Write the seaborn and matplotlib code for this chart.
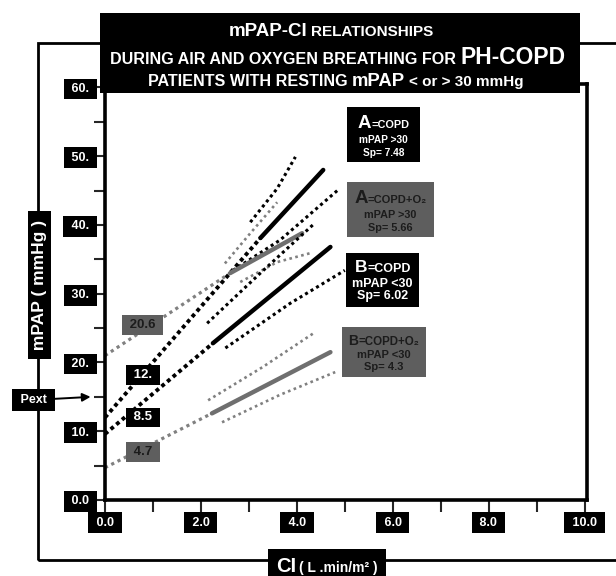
import matplotlib
matplotlib.use("Agg")
import pandas as pd
import numpy as np
import seaborn as sns
import matplotlib.pyplot as plt
from matplotlib.patches import Rectangle

# ---- data (CI in L/min/m2, mPAP in mmHg) ----
# A = COPD, resting mPAP > 30 (black)
ci_a_ext = [0.0, 3.24]
pap_a_ext = [12.0, 38.1]
ci_a_fit = [3.24, 4.55]
pap_a_fit = [38.1, 48.0]
ci_a_hi = [3.03, 3.59, 3.97]
pap_a_hi = [40.4, 45.3, 49.9]
ci_a_lo = [2.67, 3.65, 4.86]
pap_a_lo = [33.4, 37.8, 45.1]

# A = COPD + O2, resting mPAP > 30 (grey)
ci_ao_ext = [0.0, 2.61]
pap_ao_ext = [21.0, 33.0]
ci_ao_fit = [2.61, 4.11]
pap_ao_fit = [33.0, 38.8]
ci_ao_hi = [2.5, 3.03, 3.59]
pap_ao_hi = [34.4, 38.8, 43.3]
ci_ao_lo = [2.82, 3.59, 4.28]
pap_ao_lo = [31.7, 34.6, 35.9]

# B = COPD, resting mPAP < 30 (black)
ci_b_ext = [0.0, 2.25]
pap_b_ext = [9.6, 22.8]
ci_b_fit = [2.25, 4.70]
pap_b_fit = [22.8, 36.8]
ci_b_hi = [2.13, 3.24, 4.38]
pap_b_hi = [25.7, 33.0, 40.3]
ci_b_lo = [2.51, 3.86, 5.0]
pap_b_lo = [22.1, 28.6, 33.4]

# B = COPD + O2, resting mPAP < 30 (grey)
ci_bo_ext = [0.0, 2.23]
pap_bo_ext = [4.7, 12.6]
ci_bo_fit = [2.23, 4.70]
pap_bo_fit = [12.6, 21.5]
ci_bo_hi = [2.15, 3.28, 4.38]
pap_bo_hi = [14.5, 19.3, 24.4]
ci_bo_lo = [2.44, 3.65, 4.8]
pap_bo_lo = [11.3, 15.3, 18.6]

intercept_labels = ["20.6", "12.", "8.5", "4.7"]
intercept_label_y = [25.4, 18.2, 12.0, 7.0]
pext = 15.0

y_ticks = [0, 10, 20, 30, 40, 50, 60]
y_tick_labels = ["0.0", "10.", "20.", "30.", "40.", "50.", "60."]
x_ticks = [0, 2, 4, 6, 8, 10]
x_tick_labels = ["0.0", "2.0", "4.0", "6.0", "8.0", "10.0"]

BLACK = "black"
GREY_LINE = "#6f6f6f"
GREY_DOT = "#808080"
GREY_BOX = "#5e5e5e"
DARK_TXT = "#1c1c1c"

segments = [
    ("a_ext", ci_a_ext, pap_a_ext, BLACK, 2.8, (0, (1, 0.9))),
    ("a_fit", ci_a_fit, pap_a_fit, BLACK, 3.2, "-"),
    ("a_hi", ci_a_hi, pap_a_hi, BLACK, 2.2, (0, (1, 1.1))),
    ("a_lo", ci_a_lo, pap_a_lo, BLACK, 2.2, (0, (1, 1.1))),
    ("ao_ext", ci_ao_ext, pap_ao_ext, GREY_DOT, 2.3, (0, (1, 1.2))),
    ("ao_fit", ci_ao_fit, pap_ao_fit, GREY_LINE, 3.2, "-"),
    ("ao_hi", ci_ao_hi, pap_ao_hi, GREY_DOT, 1.9, (0, (1, 1.3))),
    ("ao_lo", ci_ao_lo, pap_ao_lo, GREY_DOT, 1.9, (0, (1, 1.3))),
    ("b_ext", ci_b_ext, pap_b_ext, BLACK, 2.8, (0, (1, 0.9))),
    ("b_fit", ci_b_fit, pap_b_fit, BLACK, 3.2, "-"),
    ("b_hi", ci_b_hi, pap_b_hi, BLACK, 2.2, (0, (1, 1.1))),
    ("b_lo", ci_b_lo, pap_b_lo, BLACK, 2.2, (0, (1, 1.1))),
    ("bo_ext", ci_bo_ext, pap_bo_ext, GREY_DOT, 2.3, (0, (1, 1.2))),
    ("bo_fit", ci_bo_fit, pap_bo_fit, GREY_LINE, 3.2, "-"),
    ("bo_hi", ci_bo_hi, pap_bo_hi, GREY_DOT, 1.9, (0, (1, 1.3))),
    ("bo_lo", ci_bo_lo, pap_bo_lo, GREY_DOT, 1.9, (0, (1, 1.3))),
]

rows = []
for name, xs, ys, *_ in segments:
    for x, y in zip(xs, ys):
        rows.append({"seg": name, "ci": x, "mpap": y})
df = pd.DataFrame(rows)

sns.set_style("ticks")
plt.rcParams["font.family"] = ["Liberation Sans", "DejaVu Sans"]
plt.rcParams["font.weight"] = "bold"

W, H = 616, 576
fig = plt.figure(figsize=(W / 100, H / 100), dpi=100)
fig.patch.set_facecolor("white")


def fx(px):
    return px / W


def fy(py):
    return 1 - py / H


ax = fig.add_axes([fx(105), fy(500), (587 - 105) / W, (500 - 84) / H])

for name, xs, ys, color, lw, ls in segments:
    sns.lineplot(data=df[df.seg == name], x="ci", y="mpap", color=color,
                 linewidth=lw, linestyle=ls, sort=False, estimator=None,
                 ax=ax, legend=False)

ax.set_xlim(0, 10.05)
ax.set_ylim(0, 60.5)
ax.set_xlabel("")
ax.set_ylabel("")
for sp in ax.spines.values():
    sp.set_linewidth(2.6)
    sp.set_color("black")

ax.set_yticks(y_ticks)
ax.set_yticklabels([" %s " % s for s in y_tick_labels])
ax.set_yticks(np.arange(5, 60, 10), minor=True)
ax.set_xticks(x_ticks)
ax.set_xticklabels([" %s " % s for s in x_tick_labels])
ax.set_xticks(np.arange(1, 10, 2), minor=True)
ax.tick_params(axis="y", which="major", length=6, width=1.5, pad=3,
               labelsize=9, labelcolor="white")
ax.tick_params(axis="y", which="minor", length=8, width=1.5)
ax.tick_params(axis="x", which="major", length=9, width=1.5, pad=3,
               labelsize=9, labelcolor="white")
ax.tick_params(axis="x", which="minor", length=8.5, width=1.5)
for lbl in ax.get_yticklabels() + ax.get_xticklabels():
    lbl.set_fontweight("bold")
    lbl.set_bbox(dict(boxstyle="square,pad=0.35", fc="black", ec="none"))

# intercept labels
for txt, yv in zip(intercept_labels, intercept_label_y):
    grey = txt in ("20.6", "4.7")
    ax.text(0.79, yv, " %s " % txt, ha="center", va="center", fontsize=9.5,
            fontweight="bold", color=DARK_TXT if grey else "white",
            bbox=dict(boxstyle="square,pad=0.3",
                      fc=GREY_BOX if grey else "black", ec="none"))

# Pext arrow
ax.annotate(" Pext ", xy=(-0.3, pext), xycoords="data",
            xytext=(33.5, H - 400), textcoords="figure pixels",
            ha="center", va="center", fontsize=9, fontweight="bold",
            color="white", annotation_clip=False,
            bbox=dict(boxstyle="square,pad=0.4", fc="black", ec="none"),
            arrowprops=dict(arrowstyle="-|>", color="black", lw=1.4,
                            shrinkA=0, shrinkB=0, mutation_scale=12))

# outer frame
fig.add_artist(Rectangle((fx(38), fy(560)), (700 - 38) / W, (560 - 43) / H,
                         transform=fig.transFigure, fill=False, lw=2,
                         ec="black", zorder=-1))

# y label
fig.text(fx(39.5), fy(285), " mPAP ( mmHg ) ", rotation=90, ha="center",
         va="center", fontsize=12.5, fontweight="bold", color="white",
         zorder=3,
         bbox=dict(boxstyle="square,pad=0.25", fc="black", ec="none"))


def box(x0, y0, x1, y1, color):
    fig.add_artist(Rectangle((fx(x0), fy(y1)), (x1 - x0) / W, (y1 - y0) / H,
                             transform=fig.transFigure, fc=color, ec="none",
                             zorder=4))


renderer = fig.canvas.get_renderer()


def rich_line(cx, base, pieces, color):
    items = []
    total = 0
    for s, size, gap in pieces:
        t = fig.text(0, 0, s, fontsize=size, fontweight="bold", color=color,
                     ha="left", va="baseline", zorder=5)
        w = t.get_window_extent(renderer).width
        items.append((t, gap, w))
        total += gap + w
    x = cx - total / 2
    for t, gap, w in items:
        x += gap
        t.set_position((fx(x), fy(base)))
        x += w


# title
box(100, 13, 580, 93, "black")
rich_line(331, 36, [("mPAP-CI", 13.5, 0), ("RELATIONSHIPS", 11, 4)], "white")
rich_line(338, 64, [("DURING AIR AND OXYGEN BREATHING FOR", 11.6, 0),
                    ("PH-COPD", 16.5, 5)], "white")
rich_line(336, 86, [("PATIENTS WITH RESTING", 11.6, 0), ("mPAP", 13.3, 4),
                    ("< or > 30 mmHg", 11, 4)], "white")

# group boxes
box(347, 107, 420, 162, "black")
rich_line(383.5, 128, [("A", 13.5, 0), ("=COPD", 7.8, 0)], "white")
rich_line(383.5, 143, [("mPAP >30", 7.3, 0)], "white")
rich_line(383.5, 155.5, [("Sp= 7.48", 7.3, 0)], "white")

box(347, 182, 434, 237, GREY_BOX)
rich_line(390.5, 203, [("A", 13.5, 0), ("=COPD+O\u2082", 8, 0)], DARK_TXT)
rich_line(390.5, 218, [("mPAP >30", 7.8, 0)], DARK_TXT)
rich_line(390.5, 231, [("Sp= 5.66", 7.8, 0)], DARK_TXT)

box(346, 253, 419, 307, "black")
rich_line(382.5, 272, [("B", 12.5, 0), ("=COPD", 9, 0)], "white")
rich_line(382.5, 287, [("mPAP <30", 9, 0)], "white")
rich_line(382.5, 299, [("Sp= 6.02", 9, 0)], "white")

box(342, 327, 426, 377, GREY_BOX)
rich_line(384, 345, [("B", 10, 0), ("=COPD+O\u2082", 8.3, 0)], DARK_TXT)
rich_line(384, 358, [("mPAP <30", 8, 0)], DARK_TXT)
rich_line(384, 370, [("Sp= 4.3", 8, 0)], DARK_TXT)

# x label
box(268, 549, 386, 580, "black")
rich_line(327, 572, [("CI", 14.5, 0), ("( L .min/m\u00b2 )", 10, 3)], "white")

fig.savefig("out.png", dpi=100)
